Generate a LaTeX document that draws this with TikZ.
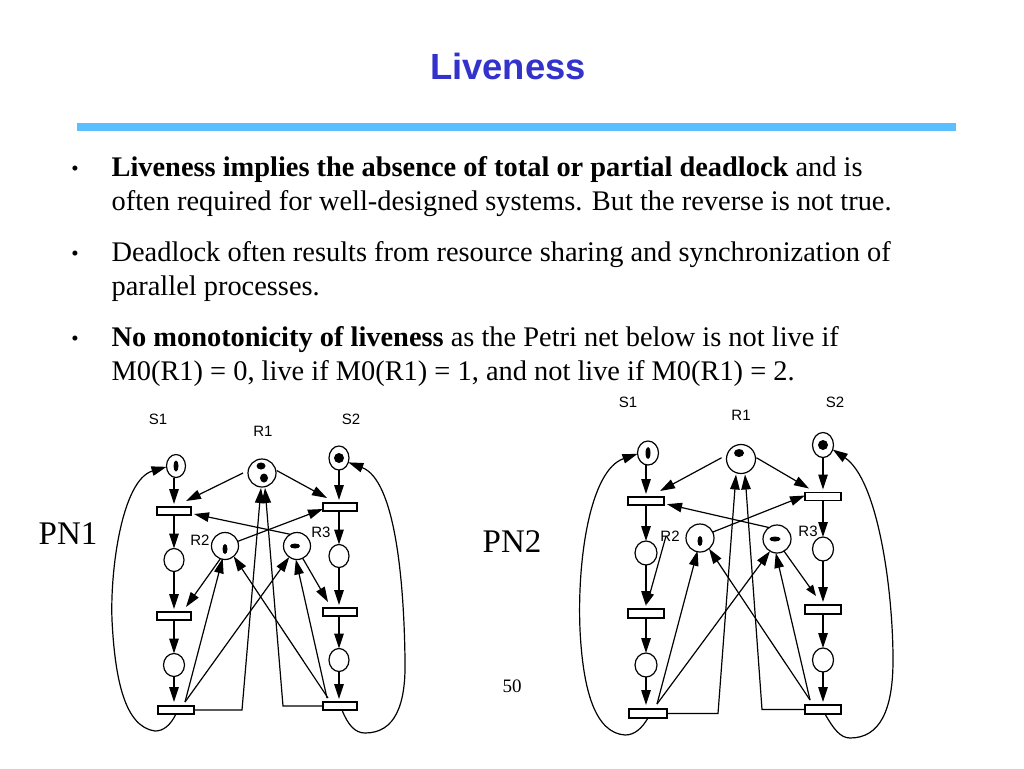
\documentclass[tikz,border=0pt]{standalone}
\usepackage{fontspec}
\setmainfont{Liberation Serif}
\setsansfont{Liberation Sans}
\usetikzlibrary{arrows.meta, shapes.geometric}
\definecolor{titleblue}{RGB}{51,51,204}
\definecolor{barblue}{RGB}{90,190,255}

\begin{document}
\begin{tikzpicture}[
    x=1pt, y=-1pt, line width=1.2pt,
    >={Triangle[length=15pt,width=9.5pt]},
    place/.style={draw, ellipse, inner sep=0pt, outer sep=0pt, fill=white},
    trans/.style={draw, rectangle, inner sep=0pt, outer sep=0pt, fill=white,
                  minimum width=34pt, minimum height=8pt},
    tok/.style={fill=black, ellipse, inner sep=0pt, outer sep=0pt},
    netlabel/.style={font=\fontsize{15}{16}\sffamily},
    pnlabel/.style={font=\fontsize{33}{36}\selectfont},
    para/.style={anchor=north west, align=left, inner sep=0pt,
                 font=\fontsize{28.4}{34}\selectfont},
    dot/.style={font=\fontsize{21}{22}\selectfont, inner sep=0pt},
    smallarc/.style={>={Triangle[length=11pt,width=8pt]}}
  ]
  \useasboundingbox (0,0) rectangle (1024,768);

  \node[font=\fontsize{36.4}{40}\bfseries\sffamily, text=titleblue] (title) at (508,66) {Liveness};
  \fill[barblue] (77,123) rectangle (956,131);

  % bullets
  \node[dot] (b1) at (75,171) {•};
  \node[dot] (b2) at (75,256) {•};
  \node[dot] (b3) at (75,341) {•};
  \node[para] (t1) at (111,156) {\textbf{Liveness implies the absence of total or partial deadlock} and is\\often required for well-designed systems. But the reverse is not true.};
  \node[para] (t2) at (111,241) {Deadlock often results from resource sharing and synchronization of\\parallel processes.};
  \node[para] (t3) at (111,326) {\textbf{No monotonicity of liveness} as the Petri net below is not live if\\M0(R1) = 0, live if M0(R1) = 1, and not live if M0(R1) = 2.};

  \node[pnlabel] (pn1) at (68,534) {PN1};
  \node[pnlabel] (pn2) at (512,542) {PN2};
  \node[font=\fontsize{19}{20}\selectfont] (page) at (512,686) {50};

  % first net
  \node[netlabel] at (158,419) {S1};
  \node[netlabel] at (263,431) {R1};
  \node[netlabel] at (351,419) {S2};
  \node[netlabel] at (200,540) {R2};
  \node[netlabel] at (321,532) {R3};

  \node[place, minimum width=19pt, minimum height=23pt] (aS1) at (176,466) {};
  \node[place, minimum width=28pt, minimum height=28pt] (aR1) at (262,473) {};
  \node[place, minimum width=20pt, minimum height=24pt] (aS2) at (339,458) {};
  \node[place, minimum width=27pt, minimum height=27pt] (aR2) at (225,546) {};
  \node[place, minimum width=27pt, minimum height=27pt] (aR3) at (297,546) {};
  \node[place, minimum width=20pt, minimum height=23pt] (aP1) at (174,560) {};
  \node[place, minimum width=20pt, minimum height=23pt] (aP2) at (339,556) {};
  \node[place, minimum width=21pt, minimum height=23pt] (aP3) at (174,665) {};
  \node[place, minimum width=20pt, minimum height=23pt] (aP4) at (339,660) {};
  \node[trans] (aT1) at (174,511) {};
  \node[trans] (aT2) at (340,507) {};
  \node[trans] (aT3) at (174,616) {};
  \node[trans] (aT4) at (340,612) {};
  \node[trans, minimum width=36pt] (aT5) at (176,710) {};
  \node[trans] (aT6) at (340,706) {};

  \node[tok, minimum width=5pt, minimum height=11pt] (atok1) at (176,466) {};
  \node[tok, minimum width=10pt, minimum height=10pt] (atok2) at (339,458) {};
  \node[tok, minimum width=9pt, minimum height=7pt] (atok3) at (261,466) {};
  \node[tok, minimum width=8pt, minimum height=9pt] (atok4) at (264,478) {};
  \node[tok, minimum width=5pt, minimum height=10pt] (atok5) at (225,549) {};
  \node[tok, minimum width=10pt, minimum height=5pt] (atok6) at (295,546) {};

  \draw[->] (aS1.south -| aT1) -- ([yshift=3pt]aT1.north);
  \draw[->] (aT1) -- (aP1);
  \draw[->] (aP1) -- ([yshift=3pt]aT3.north);
  \draw[->] (aT3) -- (aP3);
  \draw[->] (aP3) -- ([xshift=-2pt,yshift=4pt]aT5.north);
  \draw[->] (aS2) -- ([xshift=-1pt,yshift=3pt]aT2.north);
  \draw[->] (aT2.south -| aP2) -- (aP2);
  \draw[->] (aP2) -- ([xshift=-1pt,yshift=3pt]aT4.north);
  \draw[->] (aT4.south -| aP4) -- (aP4);
  \draw[->] (aP4) -- ([xshift=-1pt,yshift=3pt]aT6.north);

  \draw[->] ([xshift=-5pt]aR1.180) -- ([xshift=12pt,yshift=6pt]aT1.north);
  \draw[->] ([xshift=1pt]aR1.10) -- ([xshift=-13pt,yshift=5pt]aT2.north);
  \draw[->] (aR2.20) -- ([yshift=1pt]aT2.190);
  \draw[->] (aR3.120) -- ([xshift=3pt]aT1.350);
  \draw[->] (aT5.east) -- (242,710) -- ([xshift=-1pt,yshift=-1pt]aR1.south);
  \draw[->] (aT6.west) -- (283,706) -- ([xshift=3pt,yshift=-1pt]aR1.south);
  \draw[->] ([xshift=9pt,yshift=4pt]aT5.north) -- ([yshift=1pt]aR2.260);
  \draw[->] ([xshift=9pt,yshift=4pt]aT5.north) -- (aR3.235);
  \draw[->] ([xshift=-12pt,yshift=4pt]aT6.north) -- (aR2.310);
  \draw[->] ([xshift=-13pt,yshift=4pt]aT6.north) -- (aR3.265);
  \draw[->] (aR2.250) -- ([xshift=12pt,yshift=5pt]aT3.north);
  \draw[->] (aR3.295) -- ([xshift=-12pt,yshift=6pt]aT4.north);
  \draw[->] (aT5.south) .. controls (170,726) and (163,731) .. (155,731)
     .. controls (125,727) and (115,680) .. (112,620)
     .. controls (110,570) and (122,480) .. (aS1.185);
  \draw[->] ([xshift=2pt]aT6.south) .. controls (348,725) and (355,733) .. (365,733)
     .. controls (395,733) and (406,705) .. (405,660)
     .. controls (404,580) and (395,480) .. (aS2.335);

  % second net
  \node[netlabel] at (628,402) {S1};
  \node[netlabel] at (741,415) {R1};
  \node[netlabel] at (835,402) {S2};
  \node[netlabel] at (670,536) {R2};
  \node[netlabel] at (808,531) {R3};

  \node[place, minimum width=21pt, minimum height=24pt] (bS1) at (648,453) {};
  \node[place, minimum width=29pt, minimum height=29pt] (bR1) at (741,459) {};
  \node[place, minimum width=21pt, minimum height=25pt] (bS2) at (823,445) {};
  \node[place, minimum width=28pt, minimum height=28pt] (bR2) at (700,538) {};
  \node[place, minimum width=28pt, minimum height=28pt] (bR3) at (777,539) {};
  \node[place, minimum width=22pt, minimum height=24pt] (bP1) at (646,553) {};
  \node[place, minimum width=21pt, minimum height=24pt] (bP2) at (823,549) {};
  \node[place, minimum width=22pt, minimum height=24pt] (bP3) at (646,665) {};
  \node[place, minimum width=21pt, minimum height=24pt] (bP4) at (823,660) {};
  \node[trans, minimum width=36pt] (bT1) at (646,501) {};
  \node[trans, minimum width=36pt] (bT2) at (823,496.5) {};
  \node[trans, minimum width=36pt, minimum height=9pt] (bT3) at (646,613.5) {};
  \node[trans, minimum width=36pt, minimum height=9pt] (bT4) at (823,609.5) {};
  \node[trans, minimum width=38pt, minimum height=9pt] (bT5) at (648,713.5) {};
  \node[trans, minimum width=36pt, minimum height=9pt] (bT6) at (823,709.5) {};

  \node[tok, minimum width=5pt, minimum height=12pt] (btok1) at (648,453) {};
  \node[tok, minimum width=10pt, minimum height=10pt] (btok2) at (823,445) {};
  \node[tok, minimum width=10pt, minimum height=8pt] (btok3) at (739,453) {};
  \node[tok, minimum width=5pt, minimum height=10pt] (btok4) at (700,541) {};
  \node[tok, minimum width=11pt, minimum height=5pt] (btok5) at (775,539) {};

  \draw[->] (bS1.south -| bT1) -- ([yshift=3pt]bT1.north);
  \draw[->] (bT1) -- (bP1);
  \draw[->] (bP1) -- ([yshift=3pt]bT3.north);
  \draw[->] (bT3) -- (bP3);
  \draw[->] (bP3) -- ([xshift=-2pt,yshift=4pt]bT5.north);
  \draw[->] (bS2) -- ([yshift=3pt]bT2.north);
  \draw[->] (bT2) -- (bP2);
  \draw[->] (bP2) -- ([yshift=3pt]bT4.north);
  \draw[->] (bT4) -- (bP4);
  \draw[->] (bP4) -- ([yshift=3pt]bT6.north);

  \draw[->] ([xshift=-5pt]bR1.175) -- ([xshift=14pt,yshift=6pt]bT1.north);
  \draw[->] ([xshift=1pt]bR1.5) -- ([xshift=-14pt,yshift=4pt]bT2.north);
  \draw[->] (bR2.25) -- ([yshift=1pt]bT2.west);
  \draw[->] (bR3.125) -- ([xshift=3pt]bT1.350);
  \draw[->] (bT5.east) -- (718,713.5) -- ([xshift=-5pt,yshift=-1pt]bR1.south);
  \draw[->] (bT6.west) -- (762,709.5) -- ([xshift=4pt,yshift=-1pt]bR1.south);
  \draw[->] ([xshift=9pt,yshift=5pt]bT5.north) -- ([yshift=1pt]bR2.260);
  \draw[->] ([xshift=9pt,yshift=5pt]bT5.north) -- (bR3.240);
  \draw[->] ([xshift=-13pt,yshift=5pt]bT6.north) -- (bR2.310);
  \draw[->] ([xshift=-13pt,yshift=5pt]bT6.north) -- (bR3.265);
  \draw[smallarc,->] ([xshift=-20pt,yshift=2pt]bR2.west) -- ([xshift=1pt,yshift=5pt]bT3.north);
  \draw[smallarc,->] (bR3.300) -- ([xshift=-7pt,yshift=9pt]bT4.north);
  \draw[->] (bT5.south) .. controls (642,728) and (635,735) .. (625,735)
     .. controls (595,733) and (583,690) .. (580,630)
     .. controls (577,560) and (590,470) .. (bS1.185);
  \draw[->] ([xshift=2pt]bT6.south) .. controls (833,728) and (840,738) .. (850,738)
     .. controls (880,738) and (893,710) .. (893,660)
     .. controls (893,590) and (878,480) .. (bS2.335);
\end{tikzpicture}
\end{document}
